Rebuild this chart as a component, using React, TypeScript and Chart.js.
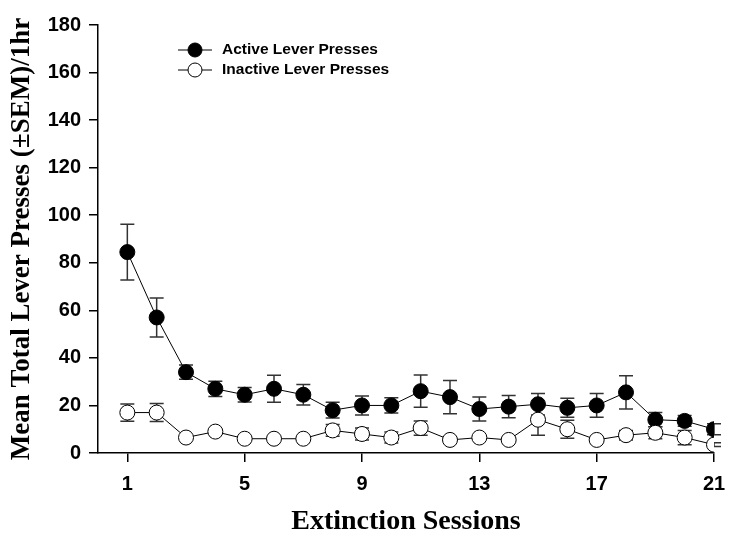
import React, { useEffect, useRef } from "react";
import { Chart, registerables } from "chart.js";

Chart.register(...registerables);

const sessions = [1, 2, 3, 4, 5, 6, 7, 8, 9, 10, 11, 12, 13, 14, 15, 16, 17, 18, 19, 20, 21];
const activeMean = [84.5, 57, 34, 27, 24.5, 27, 24.5, 18, 20, 20, 26, 23.5, 18.5, 19.5, 20.5, 19, 20, 25.5, 14, 13.5, 10];
const activeSem = [11.7, 8.2, 3, 3.2, 3, 5.7, 4.3, 3.3, 4, 3.2, 6.8, 7, 5, 4.7, 4.5, 4, 5, 7, 3, 2.3, 2.3];
const inactiveMean = [17, 17, 6.5, 9, 6, 6, 6, 9.5, 8, 6.5, 10.5, 5.5, 6.5, 5.5, 14, 10, 5.5, 7.5, 8.5, 6.5, 3.5];
const inactiveSem = [3.6, 3.8, 0.8, 1, 0.8, 0.8, 0.8, 2.5, 2.5, 2.3, 3, 0.8, 0.8, 0.8, 6.5, 3.8, 0.8, 2, 2.5, 3, 0.8];
const xTickValues = [1, 5, 9, 13, 17, 21];
const yTickStep = 20;
const seriesLabels = ["Active Lever Presses", "Inactive Lever Presses"];
const xTitle = "Extinction Sessions";
const yTitle = "Mean Total Lever Presses (\u00B1SEM)/1hr";

const SANS = "'Liberation Sans', Arial, sans-serif";
const SERIF = "'Liberation Serif', 'Times New Roman', serif";

const errorBarPlugin = {
  id: "errorBars",
  beforeDatasetsDraw(chart: any) {
    const { ctx, scales } = chart;
    const xs = scales.x;
    const ys = scales.y;
    const groups = [
      { mean: inactiveMean, sem: inactiveSem },
      { mean: activeMean, sem: activeSem },
    ];
    ctx.save();
    ctx.strokeStyle = "#333";
    ctx.lineWidth = 1.5;
    groups.forEach((g) => {
      sessions.forEach((s, i) => {
        const px = xs.getPixelForValue(s);
        const top = ys.getPixelForValue(g.mean[i] + g.sem[i]);
        const bot = ys.getPixelForValue(g.mean[i] - g.sem[i]);
        ctx.beginPath();
        ctx.moveTo(px, top);
        ctx.lineTo(px, bot);
        ctx.moveTo(px - 7, top);
        ctx.lineTo(px + 7, top);
        ctx.moveTo(px - 7, bot);
        ctx.lineTo(px + 7, bot);
        ctx.stroke();
      });
    });
    ctx.restore();
  },
};

const legendPlugin = {
  id: "customLegend",
  afterDraw(chart: any) {
    const { ctx } = chart;
    ctx.save();
    const rows = [
      { label: seriesLabels[0], fill: "#000", y: 50 },
      { label: seriesLabels[1], fill: "#fff", y: 70 },
    ];
    rows.forEach((r) => {
      ctx.strokeStyle = "#000";
      ctx.lineWidth = 1;
      ctx.beginPath();
      ctx.moveTo(178, r.y);
      ctx.lineTo(212, r.y);
      ctx.stroke();
      ctx.beginPath();
      ctx.arc(195, r.y, 7, 0, Math.PI * 2);
      ctx.fillStyle = r.fill;
      ctx.fill();
      ctx.stroke();
      ctx.fillStyle = "#000";
      ctx.font = `bold 15.5px ${SANS}`;
      ctx.textBaseline = "middle";
      ctx.textAlign = "left";
      ctx.fillText(r.label, 222, r.y);
    });
    ctx.restore();
  },
};

export default function App() {
  const ref = useRef<HTMLCanvasElement | null>(null);
  useEffect(() => {
    if (!ref.current) return;
    const tickFont = { family: SANS, size: 20, weight: "bold" as const };
    const chart = new Chart(ref.current, {
      type: "line",
      data: {
        datasets: [
          {
            label: seriesLabels[0],
            data: sessions.map((s, i) => ({ x: s, y: activeMean[i] })),
            borderColor: "#000",
            borderWidth: 1,
            backgroundColor: "#000",
            pointBackgroundColor: "#000",
            pointBorderColor: "#000",
            pointBorderWidth: 1,
            pointRadius: 7.5,
            tension: 0,
            order: 2,
          },
          {
            label: seriesLabels[1],
            data: sessions.map((s, i) => ({ x: s, y: inactiveMean[i] })),
            borderColor: "#000",
            borderWidth: 1,
            backgroundColor: "#fff",
            pointBackgroundColor: "#fff",
            pointBorderColor: "#000",
            pointBorderWidth: 1,
            pointRadius: 7.5,
            tension: 0,
            order: 1,
          },
        ],
      },
      options: {
        responsive: false,
        animation: false,
        devicePixelRatio: 1,
        layout: { padding: { top: 25, right: 15, left: 0, bottom: 0 } },
        plugins: { legend: { display: false }, tooltip: { enabled: false } },
        scales: {
          x: {
            type: "linear",
            min: 0,
            max: 21,
            afterBuildTicks: (s: any) => {
              s.ticks = xTickValues.map((v) => ({ value: v }));
            },
            afterFit: (s: any) => {
              s.height = 87;
              s.paddingRight = 0;
              s.paddingLeft = 0;
            },
            grid: {
              display: true,
              drawOnChartArea: false,
              drawTicks: true,
              tickLength: 9,
              color: "#000",
              lineWidth: 1.5,
            },
            border: { display: true, color: "#000", width: 1.5 },
            ticks: { font: tickFont, color: "#000", padding: 10, autoSkip: false, maxRotation: 0 },
            title: {
              display: true,
              text: xTitle,
              color: "#000",
              font: { family: SERIF, size: 28, weight: "bold" },
              padding: { top: 0, bottom: 1 },
            },
          },
          y: {
            type: "linear",
            min: 0,
            max: 180,
            afterFit: (s: any) => {
              s.width = 98;
            },
            grid: {
              display: true,
              drawOnChartArea: false,
              drawTicks: true,
              tickLength: 9,
              color: "#000",
              lineWidth: 1.5,
            },
            border: { display: true, color: "#000", width: 1.5 },
            ticks: { stepSize: yTickStep, font: tickFont, color: "#000", padding: 8 },
            title: {
              display: true,
              text: yTitle,
              color: "#000",
              font: { family: SERIF, size: 27, weight: "bold" },
              padding: { top: 6, bottom: 0 },
            },
          },
        },
      },
      plugins: [errorBarPlugin, legendPlugin],
    } as any);
    return () => chart.destroy();
  }, []);
  return (
    <div style={{ position: "absolute", left: 0, top: 0, width: 729, height: 540, background: "#fff" }}>
      <canvas ref={ref} width={729} height={540} style={{ display: "block" }} />
    </div>
  );
}
